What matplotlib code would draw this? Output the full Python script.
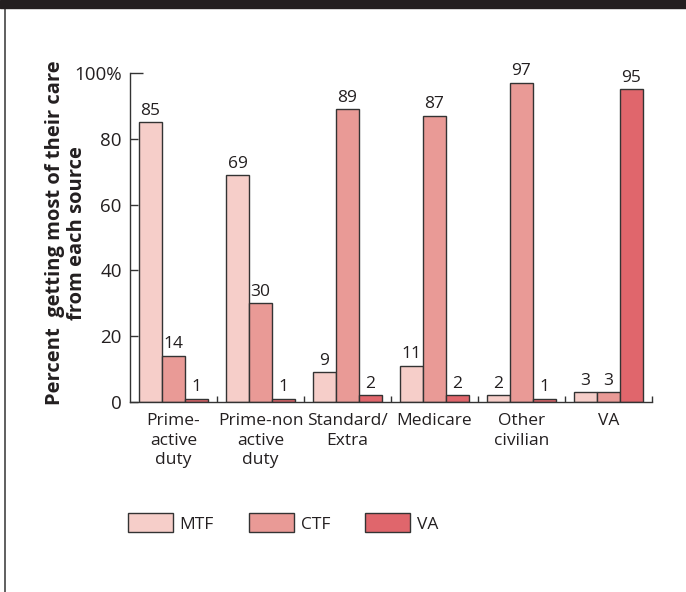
import matplotlib
matplotlib.use("Agg")
import matplotlib.pyplot as plt
import numpy as np
from matplotlib.patches import Rectangle
from matplotlib.lines import Line2D

categories = ["Prime-\nactive\nduty", "Prime-non\nactive\nduty", "Standard/\nExtra",
              "Medicare", "Other\ncivilian", "VA"]
series_names = ["MTF", "CTF", "VA"]
mtf = [85, 69, 9, 11, 2, 3]
ctf = [14, 30, 89, 87, 97, 3]
va = [1, 1, 2, 2, 1, 95]
y_ticks = [0, 20, 40, 60, 80, 100]
y_tick_labels = ["0", "20", "40", "60", "80", "100%"]
y_title_lines = ["Percent  getting most of their care", "from each source"]

colors = ["#F6CEC9", "#E99A96", "#E0666C"]
edge = "#333333"
txt = "#231F20"

plt.rcParams['font.family'] = ['Open Sans', 'DejaVu Sans']

fig = plt.figure(figsize=(6.86, 5.92), dpi=100)
ax = fig.add_axes([130/686, 1-402/592, 522/686, (402-73)/592])

n = len(categories)
x = np.arange(n)
bw = 23/87
off = 9/87
for k, vals in enumerate([mtf, ctf, va]):
    pos = x + off + bw*(k+0.5)
    bars = ax.bar(pos, vals, width=bw, color=colors[k], edgecolor=edge, linewidth=1.0,
                  label=series_names[k])
    for p, v in zip(pos, vals):
        ax.annotate(str(v), (p, v), xytext=(0, 2.5), textcoords="offset points",
                    ha="center", va="bottom", fontsize=12.5, color=txt)

ax.set_xlim(0, n)
ax.set_ylim(0, 100)
ax.set_yticks(y_ticks)
ax.set_yticklabels(y_tick_labels, fontsize=13.5, color=txt)
ax.tick_params(axis='y', direction='in', length=6, width=1, color=edge, pad=6)
ax.yaxis.get_major_ticks()[-1].tick1line.set_markersize(9)

ax.set_xticks(x + 0.5)
ax.set_xticklabels(categories, fontsize=12.5, color=txt, linespacing=1.3, va='top')
ax.tick_params(axis='x', which='major', length=0, pad=8)
ax.set_xticks(np.arange(1, n+1), minor=True)
ax.tick_params(axis='x', which='minor', direction='in', length=4, width=1, color=edge)

for s in ["top", "right"]:
    ax.spines[s].set_visible(False)
for s in ["left", "bottom"]:
    ax.spines[s].set_color(edge)
    ax.spines[s].set_linewidth(1.0)

for xpx, line in zip([55, 77], y_title_lines):
    fig.text(xpx/686, 1-233/592, line, rotation=90, ha="center", va="center",
             fontsize=14.5, fontweight="bold", color=txt)

leg = ax.legend(loc="center left", bbox_to_anchor=(112/686, 1-523/592),
                bbox_transform=fig.transFigure, ncol=3, frameon=False,
                fontsize=12.5, handlelength=2.6, handleheight=1.32,
                handletextpad=0.4, columnspacing=2.0, labelcolor=txt)
for h in leg.legend_handles:
    h.set_edgecolor(edge)
    h.set_linewidth(1.0)

fig.add_artist(Rectangle((0, 1-8/592), 1, 8/592, transform=fig.transFigure,
                         color="#231F20", zorder=10))
fig.add_artist(Line2D([4.5/686, 4.5/686], [0, 1], transform=fig.transFigure,
                      color="#444444", linewidth=1.2))

fig.savefig("out.png", dpi=100)
